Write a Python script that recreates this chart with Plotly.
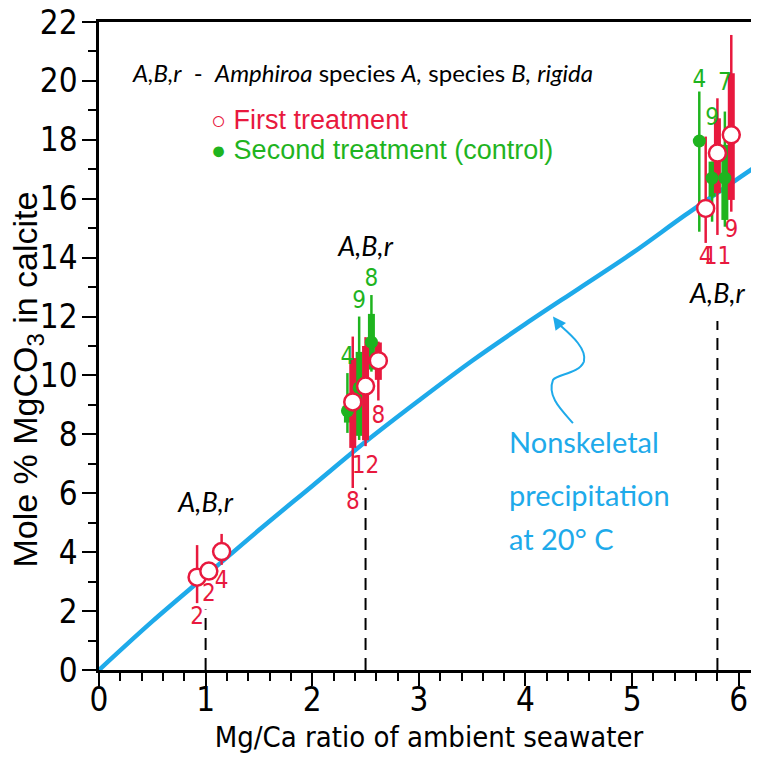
import plotly.graph_objects as go

RED = "#e8193e"
GREEN = "#1fb41f"
BLUE = "#1eaaea"

# Nonskeletal precipitation at 20 C
curve_x = [0, 0.5, 1, 1.5, 2, 2.5, 3, 3.5, 4, 4.5, 5, 5.5, 6, 6.2]
curve_y = [0, 1.65, 3.2, 4.75, 6.25, 7.75, 9.15, 10.5, 11.75, 12.95, 14.15, 15.45, 16.7, 17.2]

# First treatment (red, open circles)
red_x = [0.92, 1.03, 1.15, 2.38, 2.50, 2.62, 5.69, 5.80, 5.93]
red_y = [3.15, 3.36, 4.02, 9.10, 9.64, 10.50, 15.67, 17.55, 18.17]
red_lo = [2.27, None, 3.57, 6.18, 7.60, 9.15, 14.50, 14.77, 15.56]
red_hi = [4.24, None, 4.62, 11.32, 11.30, 11.15, 18.11, 19.41, 21.56]
red_box_lo = [None, None, None, 7.54, 7.80, 9.85, None, 16.19, 15.96]
red_box_hi = [None, None, None, 10.59, 11.00, 11.12, None, 18.73, 20.26]
red_n = ["2", "2", "4", "8", "12", "8", "4", "11", "9"]
red_n_y = [1.77, 2.55, 3.0, 5.67, 6.9, 8.6, 14.0, 14.0, 14.9]

# Second treatment (control) (green, filled circles)
green_x = [2.33, 2.44, 2.555, 5.63, 5.75, 5.87]
green_y = [8.80, 9.58, 11.13, 17.96, 16.70, 16.70]
green_lo = [8.05, 7.81, 10.13, 14.88, 15.22, 15.05]
green_hi = [10.08, 12.00, 12.73, 19.64, 17.26, 18.96]
green_box_lo = [8.40, 7.95, 10.20, None, 16.07, 15.28]
green_box_hi = [9.20, 10.80, 12.09, None, 17.26, 17.83]
green_n = ["4", "9", "8", "4", "9", "7"]
green_n_y = [10.6, 12.5, 13.25, 20.0, 18.7, 19.9]

# Seawater Mg/Ca treatments
drop_x = [1.0, 2.5, 5.8]
drop_top = [2.05, 6.2, 11.85]
group_label_y = [5.6, 14.3, 12.7]

x_ticks = [0, 1, 2, 3, 4, 5, 6]
y_ticks = [0, 2, 4, 6, 8, 10, 12, 14, 16, 18, 20, 22]


def segments(xs, lo, hi):
    X, Y = [], []
    for x, a, b in zip(xs, lo, hi):
        if a is None or b is None:
            continue
        X += [x, x, None]
        Y += [a, b, None]
    return X, Y


NARROW = "Liberation Sans Narrow, DejaVu Sans Condensed, sans-serif"
HUMAN = "Lato, Open Sans, sans-serif"
ARIAL = "Liberation Sans, Arial, sans-serif"

fig = go.Figure()

fig.add_trace(go.Scatter(x=curve_x, y=curve_y, mode="lines",
                         line=dict(color=BLUE, width=4.5, shape="spline"),
                         hoverinfo="skip"))

dx, dy = [], []
for x, t in zip(drop_x, drop_top):
    dx += [x, x, None]
    dy += [0, t, None]
fig.add_trace(go.Scatter(x=dx, y=dy, mode="lines",
                         line=dict(color="black", width=2, dash="12px,8px"),
                         hoverinfo="skip"))

gx, gy = segments(green_x, green_lo, green_hi)
fig.add_trace(go.Scatter(x=gx, y=gy, mode="lines", line=dict(color=GREEN, width=2.5)))
gx, gy = segments(green_x, green_box_lo, green_box_hi)
fig.add_trace(go.Scatter(x=gx, y=gy, mode="lines", line=dict(color=GREEN, width=7)))
rx, ry = segments(red_x, red_lo, red_hi)
fig.add_trace(go.Scatter(x=rx, y=ry, mode="lines", line=dict(color=RED, width=2.5)))
rx, ry = segments(red_x, red_box_lo, red_box_hi)
fig.add_trace(go.Scatter(x=rx, y=ry, mode="lines", line=dict(color=RED, width=7)))

fig.add_trace(go.Scatter(x=green_x, y=green_y, mode="markers",
                         marker=dict(color=GREEN, size=13, line=dict(width=0))))
fig.add_trace(go.Scatter(x=red_x, y=red_y, mode="markers",
                         marker=dict(color="white", size=17, line=dict(color=RED, width=2.5))))

fig.add_trace(go.Scatter(x=red_x, y=red_n_y, mode="text", text=red_n,
                         textfont=dict(color=RED, size=24, family=NARROW)))
fig.add_trace(go.Scatter(x=green_x, y=green_n_y, mode="text", text=green_n,
                         textfont=dict(color=GREEN, size=24, family=NARROW)))

fig.add_trace(go.Scatter(x=drop_x, y=group_label_y, mode="text",
                         text=["<i>A,B,r</i>"] * 3,
                         textfont=dict(color="black", size=27, family=HUMAN)))

annotations = [
    dict(x=0.29, y=20.3, xref="x", yref="y", xanchor="left", yanchor="middle",
         showarrow=False,
         text="<i>A,B,r</i>  -  <i>Amphiroa</i> species <i>A,</i> species <i>B,</i> <i>rigida</i>",
         font=dict(family=HUMAN, size=24, color="black")),
    dict(x=1.03, y=18.68, xref="x", yref="y", xanchor="left", yanchor="middle",
         showarrow=False,
         text="<span style='font-size:25px'>○</span> First treatment",
         font=dict(family=ARIAL, size=27, color=RED)),
    dict(x=1.03, y=17.66, xref="x", yref="y", xanchor="left", yanchor="middle",
         showarrow=False,
         text="<span style='font-size:25px'>●</span> Second treatment (control)",
         font=dict(family=ARIAL, size=27, color=GREEN)),
    dict(x=3.83, y=7.75, xref="x", yref="y", xanchor="left", yanchor="middle",
         showarrow=False, text="Nonskeletal",
         font=dict(family=HUMAN, size=29, color=BLUE)),
    dict(x=3.83, y=5.95, xref="x", yref="y", xanchor="left", yanchor="middle",
         showarrow=False, text="precipitation",
         font=dict(family=HUMAN, size=29, color=BLUE)),
    dict(x=3.83, y=4.45, xref="x", yref="y", xanchor="left", yanchor="middle",
         showarrow=False, text="at 20° C",
         font=dict(family=HUMAN, size=29, color=BLUE)),
    dict(x=4.258, y=12.0, xref="x", yref="y", ax=4.32, ay=11.7,
         axref="x", ayref="y", showarrow=True, arrowhead=2, arrowsize=1.3,
         arrowwidth=2, arrowcolor=BLUE, text=""),
    # y-axis title
    dict(x=-0.108, y=9.85, xref="paper", yref="y", xanchor="center", yanchor="middle",
         showarrow=False, textangle=-90,
         text="Mole % MgCO<sub>3</sub> in calcite",
         font=dict(family=ARIAL, size=34, color="black")),
]

shapes = [
    dict(type="path", xref="x", yref="y",
         path="M 4.445,8.38 C 4.33,8.85 4.20,9.30 4.258,9.85 "
              "C 4.30,10.05 4.50,10.05 4.548,10.47 "
              "C 4.58,10.95 4.40,11.45 4.30,11.78",
         line=dict(color=BLUE, width=2)),
]

fig.update_layout(
    width=751, height=750,
    margin=dict(l=91, r=0, t=14, b=88),
    plot_bgcolor="white", paper_bgcolor="white",
    showlegend=False,
    annotations=annotations,
    shapes=shapes,
    xaxis=dict(range=[0, 6.19], tickvals=x_ticks, ticktext=[str(v) for v in x_ticks],
               showline=True, linecolor="black", linewidth=2.5, mirror=True,
               ticks="outside", ticklen=13, tickwidth=2, tickcolor="black",
               minor=dict(dtick=0.2, tick0=0, ticks="outside", ticklen=8,
                          tickwidth=2, tickcolor="black"),
               showgrid=False, zeroline=False,
               tickfont=dict(family=NARROW, size=33, color="black"),
               ticklabelstandoff=-14, ticklabeloverflow="allow",
               title=dict(text="Mg/Ca ratio of ambient seawater",
                          font=dict(family=NARROW, size=29, color="black"),
                          standoff=9),
               automargin=False),
    yaxis=dict(range=[0, 22], tickvals=y_ticks, ticktext=[str(v) for v in y_ticks],
               showline=True, linecolor="black", linewidth=2.5,
               ticks="outside", ticklen=14, tickwidth=2, tickcolor="black",
               minor=dict(dtick=1, tick0=0, ticks="outside", ticklen=8,
                          tickwidth=2, tickcolor="black"),
               showgrid=False, zeroline=False,
               tickfont=dict(family=NARROW, size=33, color="black"),
               ticklabelstandoff=-2, ticklabeloverflow="allow",
               automargin=False),
)

fig.write_html("out.html")
